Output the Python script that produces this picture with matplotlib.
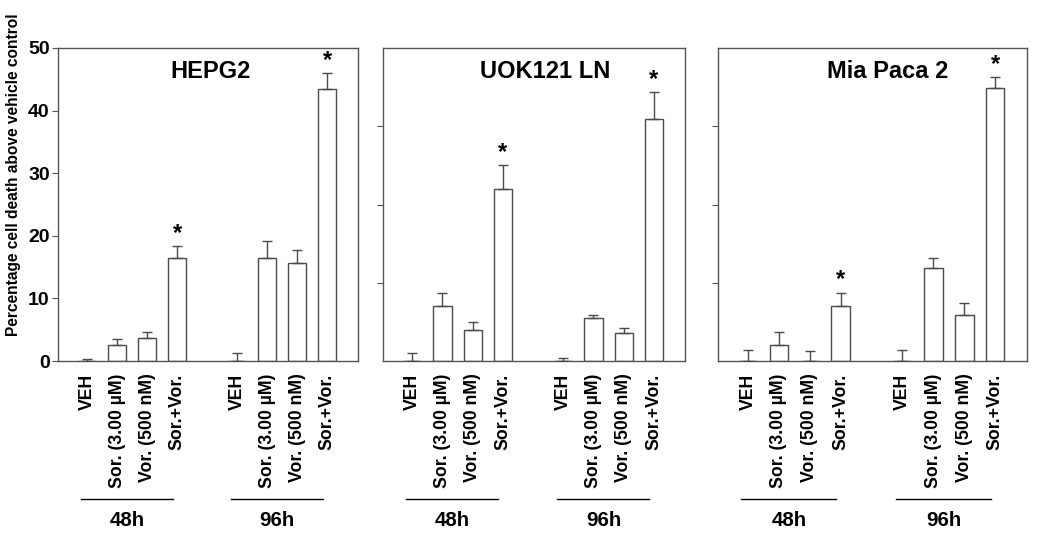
import matplotlib
matplotlib.use("Agg")
import matplotlib.pyplot as plt
from matplotlib import font_manager
import matplotlib.transforms as mtransforms

# ---- data ----
categories = ["VEH", "Sor. (3.00 \u00b5M)", "Vor. (500 nM)", "Sor.+Vor."]
groups = ["48h", "96h"]
panels = ["HEPG2", "UOK121 LN", "Mia Paca 2"]

hepg2_vals = [0.0, 2.5, 3.6, 16.5, 0.0, 16.5, 15.6, 43.5]
hepg2_err = [0.35, 1.0, 1.0, 1.9, 1.3, 2.6, 2.2, 2.5]
uok_vals = [0.0, 8.75, 5.0, 27.4, 0.0, 6.8, 4.5, 38.7]
uok_err = [1.3, 2.15, 1.3, 3.9, 0.4, 0.6, 0.8, 4.2]
mia_vals = [0.0, 2.5, 0.0, 8.75, 0.0, 14.9, 7.4, 43.6]
mia_err = [1.7, 2.2, 1.6, 2.15, 1.7, 1.5, 1.8, 1.8]
star_flags = [False, False, False, True, False, False, False, True]

yticks_first = [0, 10, 20, 30, 40, 50]
yticks_other = [12.5, 25, 37.5]

all_vals = [hepg2_vals, uok_vals, mia_vals]
all_errs = [hepg2_err, uok_err, mia_err]

# ---- fonts ----
names = {f.name for f in font_manager.fontManager.ttflist}
base = "Liberation Sans" if "Liberation Sans" in names else "DejaVu Sans"
narrow = "Liberation Sans Narrow" if "Liberation Sans Narrow" in names else base
plt.rcParams["font.family"] = [base, "DejaVu Sans"]

W, H = 1050, 538
fig = plt.figure(figsize=(W / 100, H / 100), dpi=100)

# axes rectangles in pixels: (left, right)
rects = [(58, 358), (383, 685), (718, 1027)]
top_px, bot_px = 48, 361
title_x = [211, 545, 888]

positions = [0, 1, 2, 3, 5, 6, 7, 8]
tick_labels = categories * 2
edge = "#4a4a4a"

for i, (l, r) in enumerate(rects):
    ax = fig.add_axes([l / W, 1 - bot_px / H, (r - l) / W, (bot_px - top_px) / H])
    vals = all_vals[i]
    errs = all_errs[i]
    ax.bar(positions, vals, width=0.6, color="white", edgecolor=edge, linewidth=1.0, zorder=2)
    ax.errorbar(positions, vals, yerr=[[0] * len(errs), errs], fmt="none",
                ecolor=edge, elinewidth=1.0, capsize=3.5, capthick=1.0, zorder=3)
    for p, v, e, s in zip(positions, vals, errs, star_flags):
        if s:
            ax.text(p, v + e + 0.2, "*", ha="center", va="bottom",
                    fontsize=17, fontweight="bold", color="black")
    ax.set_xlim(-0.97, 9.03)
    ax.set_ylim(0, 50)
    for sp in ax.spines.values():
        sp.set_color("#555555")
        sp.set_linewidth(1.0)
    ax.set_xticks(positions)
    ax.set_xticklabels(tick_labels, rotation=90, fontsize=12.7, fontweight="bold", va="top")
    ax.tick_params(axis="x", length=0, pad=9)
    if i == 0:
        ax.set_yticks(yticks_first)
        ax.set_yticklabels([str(t) for t in yticks_first], fontsize=14,
                           fontweight="bold", family=narrow)
        ax.tick_params(axis="y", length=4, color="#555555", pad=2)
    else:
        ax.set_yticks(yticks_other)
        ax.set_yticklabels([])
        ax.tick_params(axis="y", length=4, color="#555555")
    fig.text(title_x[i] / W, 1 - 72 / H, panels[i], ha="center", va="center",
             fontsize=17, fontweight="bold")

    # group lines and labels
    trans = mtransforms.blended_transform_factory(ax.transData, fig.transFigure)
    for g, gname in zip([0, 5], groups):
        ax.plot([g - 0.22, g + 2.85], [1 - 499 / H, 1 - 499 / H], transform=trans,
                color="black", linewidth=1.0, clip_on=False)
        ax.text(g + 1.33, 1 - 521 / H, gname, transform=trans, ha="center", va="center",
                fontsize=14.8, fontweight="bold")

fig.text(14 / W, 1 - 175 / H, "Percentage cell death above vehicle control",
         rotation=90, ha="center", va="center", fontsize=11.2, fontweight="bold")

fig.savefig("out.png", dpi=100)
